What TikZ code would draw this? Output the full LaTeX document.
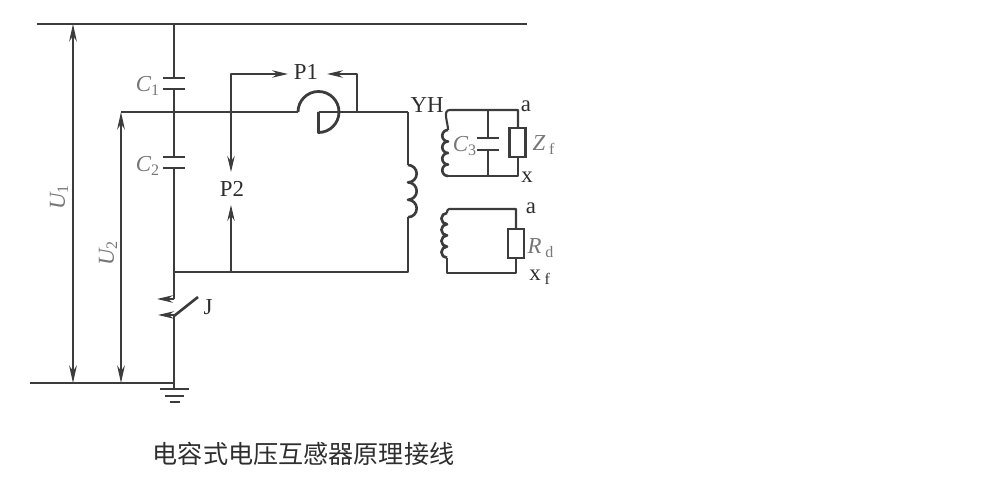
\documentclass[tikz,border=0pt]{standalone}
\usepackage{fontspec}
\setmainfont{Liberation Serif}
\newfontfamily\cjk{Noto Sans CJK SC}
\usepackage{xcolor}
\usetikzlibrary{calc,arrows.meta}
\definecolor{wire}{HTML}{3C3C3C}
\definecolor{muted}{HTML}{767676}
\definecolor{ink}{HTML}{2E2E2E}
\tikzset{
  base/.style={draw=wire, line width=1.2pt, line join=round},
  bus/.style={draw=wire, line width=1.5pt},
  plate/.style={draw=wire, line width=1.5pt},
  volt/.style={base, {Stealth[length=10pt,width=4.4pt]}-{Stealth[length=10pt,width=4.4pt]}},
  meas/.style={base, -{Stealth[length=9pt,width=4.2pt]}},
  res/.style={draw=wire, fill=white, line width=1.2pt},
  lab/.style={text=ink, font=\fontsize{13}{15}\selectfont, inner sep=0pt},
  labm/.style={text=muted, font=\fontsize{13}{15}\selectfont\itshape, inner sep=0pt},
}
\newcommand{\subt}[1]{\,\textsubscript{\upshape #1}}
\newcommand{\subc}[1]{\textsubscript{\upshape #1}}
\begin{document}
\begin{tikzpicture}[x=0.02cm,y=-0.02cm]
  \useasboundingbox (0,0) rectangle (996,502);
  % buses
  \coordinate (T) at (174,24);
  \coordinate (E) at (174,383);
  \draw[bus] (37,24) -- (527,24);
  \draw[bus] (30,383) -- (E);
  % voltage arrows
  \draw[volt] (73,24) -- (73,383);
  \draw[volt] (121,112) -- (121,383);
  % divider
  \coordinate (M) at (174,112);
  \coordinate (L) at (174,272);
  \coordinate (SW) at (408,112);
  \coordinate (SE) at (408,272);
  \draw[base] (T) -- (174,78);
  \draw[plate] (163,78) -- (185,78);
  \draw[plate] (163,89) -- (185,89);
  \draw[base] (174,89) -- (174,157);
  \draw[plate] (163,157) -- (185,157);
  \draw[plate] (163,168) -- (185,168);
  \draw[base] (174,168) -- (174,299);
  % primary loop with the meter hook
  \draw[base] (121,112) -- (298,112);
  \draw[base, line width=1.6pt] (298,112) arc[start angle=180,end angle=450,radius=20.5] -- (318.5,112);
  \draw[base] (318.5,112) -- (SW);
  \draw[base] (SW) -- (408,165);
  \draw[base, line width=1.5pt] (408,165) \foreach \i in {0,1,2} {arc[start angle=-90,end angle=90,radius=8.7]};
  \draw[base] (408,217) -- (SE) -- (L);
  % P1, P2 leads
  \coordinate (A) at (231,74);
  \coordinate (B) at (231,272);
  \draw[meas] (231,112) -- (A) -- (288,74);
  \draw[meas] (357,112) -- (357,74) -- (327,74);
  \draw[meas] (231,112) -- (231,172);
  \draw[meas] (B) -- (231,205);
  % switch J
  \draw[meas] (174,299) -- (157,299);
  \draw[meas] (174,315) -- (158,315);
  \draw[base, line width=1.5pt] (174,316) -- (198,297);
  \draw[base] (174,316) -- (E);
  % ground
  \draw[plate] (160,389) -- (189,389);
  \draw[plate] (165,396) -- (184,396);
  \draw[plate] (170,402) -- (180,402);
  \draw[base] (E) -- (174,389);
  % upper secondary
  \draw[base] (518,128) -- (518,110) -- (450,110) to[out=180,in=90] (448,130);
  \draw[base, line width=1.5pt] (448,130) \foreach \i in {0,1,2,3} {arc[start angle=-90,end angle=-270,radius=5.75]};
  \draw[base] (448,176) -- (518,176) -- (518,157);
  \draw[res] (509.5,128) rectangle (525.5,157);
  \draw[base] (488,110) -- (488,138);
  \draw[plate] (477,138) -- (499,138);
  \draw[plate] (477,150) -- (499,150);
  \draw[base] (488,150) -- (488,176);
  % lower secondary
  \draw[base] (516,229) -- (516,209) -- (449,209) to[out=180,in=90] (447,213);
  \draw[base, line width=1.5pt] (447,213) \foreach \i in {0,1,2,3} {arc[start angle=-90,end angle=-270,radius=5.6]};
  \draw[base] (447,258) -- (447,273) -- (516,273) -- (516,258);
  \draw[res] (508,229) rectangle (524,258);
  % labels
  \node[labm] (c1) at (148,86) {C\subc{1}};
  \node[labm] (c2) at (148,166) {C\subc{2}};
  \node[labm] (c3) at (465,146) {C\subc{3}};
  \node[labm, rotate=90] (u1) at (59,197) {U\subc{1}};
  \node[labm, rotate=90] (u2) at (108,253) {U\subc{2}};
  \node[lab] (p1) at (306,72) {P1};
  \node[lab] (p2) at (232,189) {P2};
  \node[lab] (j) at (208,307) {J};
  \node[lab] (yh) at (427,105) {YH};
  \node[lab] (a1) at (526,106) {a};
  \node[lab] (x1) at (527,177) {x};
  \node[lab] (a2) at (531,208) {a};
  \node[lab] (x2) at (540,277) {x\subt{f}};
  \node[labm] (zf) at (544,145) {Z\subt{f}};
  \node[labm] (rd) at (541,248) {R\subt{d}};
  \node[text=ink, font=\cjk\fontsize{14.3}{16}\selectfont, inner sep=0pt] (cap) at (303.5,454) {电容式电压互感器原理接线};
\end{tikzpicture}
\end{document}
